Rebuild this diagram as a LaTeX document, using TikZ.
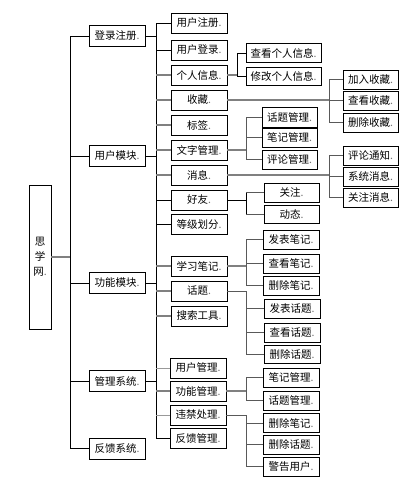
\documentclass[tikz,border=0pt]{standalone}
\usepackage{fontspec}
\newfontfamily\cjk{Noto Sans CJK SC}
\newcommand{\parmk}{\textcolor{black!55}{.}}
\begin{document}
\begin{tikzpicture}[x=1pt,y=-1pt,
  bx/.style={draw=black,line width=0.9pt,fill=white,inner sep=0pt,font=\cjk\fontsize{10.5}{12}\selectfont},
  lone/.style={bx,minimum width=56pt,minimum height=21pt},
  ltwo/.style={bx,minimum width=56pt,minimum height=20pt},
  lthree/.style={bx,minimum width=55pt,minimum height=19pt},
  ln/.style={draw=black,line width=0.8pt},
  gl/.style={draw=black!50,line width=1.3pt},
  dl/.style={draw=black!65,line width=1pt}]
\useasboundingbox (0,0) rectangle (409,485);
% guide coordinates
\coordinate (T) at (70,0);
\coordinate (S) at (156,0);
\coordinate (BA) at (237,0);
\coordinate (BB) at (329,0);
\coordinate (BC) at (246,0);
% root
\node[bx,minimum width=22pt,minimum height=144pt,align=center] (root) at (40,257) {思\\[3pt]学\\[3pt]网\parmk};
% level 1
\node[lone] (a) at (117,36) {登录注册\parmk};
\node[lone] (b) at (117,156) {用户模块\parmk};
\node[lone] (c) at (117,283) {功能模块\parmk};
\node[lone] (d) at (117,381) {管理系统\parmk};
\node[lone] (e) at (117,448.5) {反馈系统\parmk};
% level 2
\node[ltwo] (n1) at (199,23) {用户注册\parmk};
\node[ltwo] (n2) at (199,50) {用户登录\parmk};
\node[ltwo] (n3) at (199,75) {个人信息\parmk};
\node[ltwo] (n4) at (199,100) {收藏\parmk};
\node[ltwo] (n5) at (199,125) {标签\parmk};
\node[ltwo] (n6) at (199,150) {文字管理\parmk};
\node[ltwo] (n7) at (199,175) {消息\parmk};
\node[ltwo] (n8) at (199,200) {好友\parmk};
\node[ltwo] (n9) at (199,224) {等级划分\parmk};
\node[ltwo] (n10) at (199,266) {学习笔记\parmk};
\node[ltwo] (n11) at (199,291) {话题\parmk};
\node[ltwo] (n12) at (199,316) {搜索工具\parmk};
\node[ltwo] (n13) at (198,368) {用户管理\parmk};
\node[ltwo] (n14) at (198,391) {功能管理\parmk};
\node[ltwo] (n15) at (198,415) {违禁处理\parmk};
\node[ltwo] (n16) at (198,438) {反馈管理\parmk};
% level 3
\node[lthree,minimum width=75pt] (p1) at (283.5,53) {查看个人信息\parmk};
\node[lthree,minimum width=75pt,minimum height=18pt] (p2) at (283.5,76) {修改个人信息\parmk};
\node[lthree] (q1) at (370.5,79.5) {加入收藏\parmk};
\node[lthree] (q2) at (370.5,100.5) {查看收藏\parmk};
\node[lthree] (q3) at (370.5,122.5) {删除收藏\parmk};
\node[lthree,minimum height=20pt] (r1) at (289.5,117) {话题管理\parmk};
\node[lthree] (r2) at (289.5,137.5) {笔记管理\parmk};
\node[lthree] (r3) at (289.5,159.5) {评论管理\parmk};
\node[lthree] (s1) at (370.5,155.5) {评论通知\parmk};
\node[lthree] (s2) at (370.5,176.5) {系统消息\parmk};
\node[lthree] (s3) at (370.5,197.5) {关注消息\parmk};
\node[lthree] (t1) at (291.5,192.5) {关注\parmk};
\node[lthree,minimum height=18pt] (t2) at (291.5,214.5) {动态\parmk};
\node[lthree,minimum width=56pt] (u1) at (291,239.5) {发表笔记\parmk};
\node[lthree,minimum width=56pt] (u2) at (291,263.5) {查看笔记\parmk};
\node[lthree,minimum width=56pt] (u3) at (291,285.5) {删除笔记\parmk};
\node[lthree,minimum width=56pt] (v1) at (292,308.5) {发表话题\parmk};
\node[lthree,minimum width=56pt] (v2) at (292,332.5) {查看话题\parmk};
\node[lthree,minimum width=56pt,minimum height=18pt] (v3) at (292,354) {删除话题\parmk};
\node[lthree,minimum width=56pt] (w1) at (291,377.5) {笔记管理\parmk};
\node[lthree,minimum width=56pt] (w2) at (291,400.5) {话题管理\parmk};
\node[lthree,minimum width=56pt] (x1) at (291,423) {删除笔记\parmk};
\node[lthree,minimum width=56pt] (x2) at (291,444.5) {删除话题\parmk};
\node[lthree,minimum width=56pt] (x3) at (291,466.5) {警告用户\parmk};
% root and first trunk
\draw[gl] (root.east) -- (T |- root.east);
\draw[ln] (T |- a.west) -- (T |- e.west);
\foreach \k in {a,b,c,d,e} \draw[ln] (T |- \k.west) -- (\k.west);
% second trunk
\draw[ln] (S |- n1.west) -- (S |- n16.west);
\foreach \k in {a,b,c,d} \draw[ln] (\k.east) -- (S |- \k.east);
\foreach \k in {n1,n2,n8,n9,n16} \draw[ln] (S |- \k.west) -- (\k.west);
\foreach \k in {n3,n4,n5,n6,n7,n10,n11,n12,n14} \draw[gl] (S |- \k.west) -- (\k.west);
\foreach \k in {n13,n15} \draw[draw=black!40,line width=1pt] (S |- \k.west) -- (\k.west);
% 个人信息
\draw[gl] (n3.east) -- (BA |- n3.east);
\draw[ln] (BA |- p1.west) -- (BA |- p2.west);
\foreach \k in {p1,p2} \draw[ln] (BA |- \k.west) -- (\k.west);
% 收藏
\draw[gl] (n4.east) -- (BB |- n4.east);
\draw[dl] (BB |- q1.west) -- (BB |- q3.west);
\foreach \k in {q1,q2,q3} \draw[dl] (BB |- \k.west) -- (\k.west);
% 文字管理
\draw[gl] (n6.east) -- (BC |- n6.east);
\draw[dl] (BC |- r1.west) -- (BC |- r3.west);
\foreach \k in {r1,r2,r3} \draw[dl] (BC |- \k.west) -- (\k.west);
% 消息
\draw[gl] (n7.east) -- (BB |- n7.east);
\draw[dl] (BB |- s1.west) -- (BB |- s3.west);
\foreach \k in {s1,s2,s3} \draw[dl] (BB |- \k.west) -- (\k.west);
% 好友
\draw[ln] (n8.east) -- (BC |- n8.east);
\draw[ln] (BC |- t1.west) -- (BC |- t2.west);
\foreach \k in {t1,t2} \draw[dl] (BC |- \k.west) -- (\k.west);
% 学习笔记
\draw[gl] (n10.east) -- (BC |- n10.east);
\draw[dl] (BC |- u1.west) -- (BC |- u3.west);
\foreach \k in {u1,u2,u3} \draw[dl] (BC |- \k.west) -- (\k.west);
% 话题
\draw[dl] (n11.east) -- (BC |- n11.east);
\draw[dl] (BC |- n11.east) -- (BC |- v3.west);
\foreach \k in {v1,v2,v3} \draw[dl] (BC |- \k.west) -- (\k.west);
% 功能管理
\draw[gl] (n14.east) -- (BC |- n14.east);
\draw[dl] (BC |- w1.west) -- (BC |- w2.west);
\foreach \k in {w1,w2} \draw[dl] (BC |- \k.west) -- (\k.west);
% 违禁处理
\draw[dl] (n15.east) -- (BC |- n15.east);
\draw[dl] (BC |- n15.east) -- (BC |- x3.west);
\foreach \k in {x1,x2,x3} \draw[dl] (BC |- \k.west) -- (\k.west);
\end{tikzpicture}
\end{document}
